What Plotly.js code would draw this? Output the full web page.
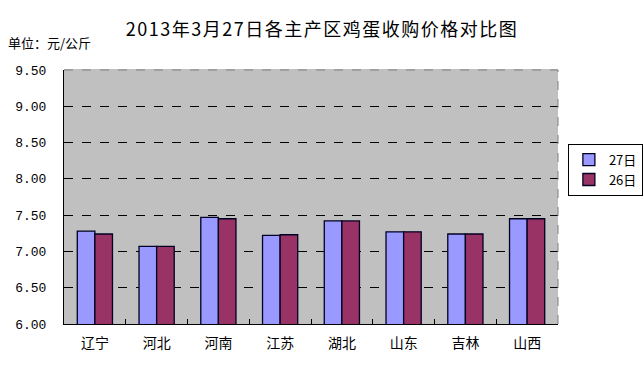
<!DOCTYPE html>
<html>
<head>
<meta charset="utf-8">
<script src="https://cdn.plot.ly/plotly-3.0.1.min.js"></script>
<style>
html,body{margin:0;padding:0;background:#fff;}
#chart{width:644px;height:374px;}
.gtitle{letter-spacing:1.5px;}
</style>
</head>
<body>
<div id="chart"></div>
<script>
const categories = ["辽宁","河北","河南","江苏","湖北","山东","吉林","山西"];
const series27 = [7.28, 7.07, 7.47, 7.22, 7.42, 7.27, 7.24, 7.45];
const series26 = [7.24, 7.07, 7.45, 7.23, 7.42, 7.27, 7.24, 7.45];
const seriesNames = ["27日", "26日"];
const yTicks = [6.0, 6.5, 7.0, 7.5, 8.0, 8.5, 9.0, 9.5];
const yTickLabels = ["6.00","6.50","7.00","7.50","8.00","8.50","9.00","9.50"];

const cjk = '"Noto Sans CJK SC", "Noto Sans", sans-serif';

const traces = [
  {type:'bar', x:categories, y:series27, name:seriesNames[0],
   marker:{color:'#9999FF', line:{color:'#000022', width:1.3}}},
  {type:'bar', x:categories, y:series26, name:seriesNames[1],
   marker:{color:'#993366', line:{color:'#000022', width:1.3}}}
];

const layout = {
  width:644, height:374,
  margin:{l:64, r:86, t:70, b:50, autoexpand:false},
  paper_bgcolor:'#ffffff',
  plot_bgcolor:'#C0C0C0',
  barmode:'group',
  bargap:0.43,
  bargroupgap:0,
  title:{text:'2013年3月27日各主产区鸡蛋收购价格对比图', x:0.5, xref:'container', xanchor:'center',
         y:0.92, yref:'container', yanchor:'middle',
         font:{family:cjk, size:18, color:'#000'}},
  xaxis:{type:'category', showline:true, linecolor:'#000', linewidth:1,
         ticks:'inside', tickson:'boundaries', ticklen:5, tickcolor:'#000',
         tickfont:{family:cjk, size:14, color:'#000'}, showgrid:false,
         ticklabelstandoff:6},
  yaxis:{range:[6,9.5], tickvals:yTicks, ticktext:yTickLabels,
         showline:true, linecolor:'#000', linewidth:1, ticks:'',
         showgrid:true, gridcolor:'#000', griddash:'dash', gridwidth:1,
         zeroline:false, ticklabelstandoff:14,
         tickfont:{family:'"Liberation Mono", monospace', size:13, color:'#000'}},
  legend:{x:1.02, xanchor:'left', y:0.71, yanchor:'top',
          bgcolor:'#fff', bordercolor:'#000', borderwidth:1, itemwidth:30,
          font:{family:cjk, size:13, color:'#000'}, tracegroupgap:4},
  showlegend:true,
  shapes:[
    {type:'line', xref:'paper', yref:'paper', x0:0, x1:1, y0:1, y1:1,
     line:{color:'#C0C0C0', width:2}},
    {type:'line', xref:'paper', yref:'paper', x0:0, x1:1, y0:1, y1:1,
     line:{color:'#808080', width:1, dash:'dash'}},
    {type:'line', xref:'paper', yref:'paper', x0:1, x1:1, y0:0, y1:1,
     line:{color:'#808080', width:1, dash:'dash'}}
  ],
  annotations:[
    {text:'单位：元/公斤', xref:'paper', yref:'paper', x:-0.117, y:1.11, xanchor:'left', yanchor:'middle',
     showarrow:false, font:{family:cjk, size:13, color:'#000'}}
  ]
};

Plotly.newPlot('chart', traces, layout, {displayModeBar:false, staticPlot:true});
</script>
</body>
</html>
